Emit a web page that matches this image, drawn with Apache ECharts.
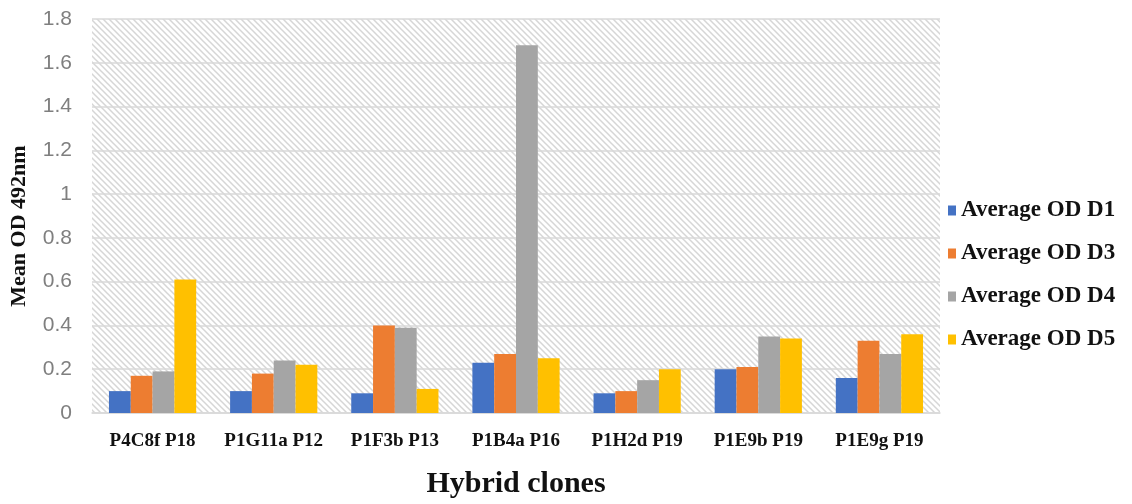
<!DOCTYPE html>
<html>
<head>
<meta charset="utf-8">
<script src="https://cdn.jsdelivr.net/npm/echarts@6/dist/echarts.min.js"></script>
<style>
  html, body { margin: 0; padding: 0; background: #ffffff; }
  #chart { width: 1132px; height: 504px; }
</style>
</head>
<body>
<div id="chart"></div>
<script>
// Hybridoma clones screened by ELISA, absorbance read at 492 nm
const clones = ['P4C8f P18', 'P1G11a P12', 'P1F3b P13', 'P1B4a P16', 'P1H2d P19', 'P1E9b P19', 'P1E9g P19'];
const seriesNames = ['Average OD D1', 'Average OD D3', 'Average OD D4', 'Average OD D5'];
const odD1 = [0.10, 0.10, 0.09, 0.23, 0.09, 0.20, 0.16];
const odD3 = [0.17, 0.18, 0.40, 0.27, 0.10, 0.21, 0.33];
const odD4 = [0.19, 0.24, 0.39, 1.68, 0.15, 0.35, 0.27];
const odD5 = [0.61, 0.22, 0.11, 0.25, 0.20, 0.34, 0.36];
const colors = ['#4472C4', '#ED7D31', '#A5A5A5', '#FFC000'];

// Light diagonal hatch for the plot area background
function hatchPattern() {
  const size = 6;
  const c = document.createElement('canvas');
  c.width = size; c.height = size;
  const ctx = c.getContext('2d');
  ctx.fillStyle = '#ffffff';
  ctx.fillRect(0, 0, size, size);
  ctx.strokeStyle = '#d6d6d6';
  ctx.lineWidth = 1.5;
  ctx.beginPath();
  ctx.moveTo(-1, -1); ctx.lineTo(size + 1, size + 1);
  ctx.moveTo(-1 - size, -1); ctx.lineTo(1, size + 1);
  ctx.moveTo(size - 1, -1); ctx.lineTo(2 * size + 1, size + 1);
  ctx.stroke();
  return c;
}

const data = [odD1, odD3, odD4, odD5];
const chart = echarts.init(document.getElementById('chart'), null, { renderer: 'canvas' });

chart.setOption({
  animation: false,
  grid: {
    show: true,
    left: 92, right: 192, top: 19, bottom: 90,
    backgroundColor: { image: hatchPattern(), repeat: 'repeat' },
    borderWidth: 0
  },
  legend: {
    orient: 'vertical',
    left: 943,
    top: 194,
    itemGap: 20,
    itemWidth: 8,
    itemHeight: 10,
    icon: 'rect',
    data: seriesNames,
    textStyle: {
      fontFamily: 'Liberation Serif',
      fontWeight: 'bold',
      fontSize: 23,
      color: '#111111',
      padding: [0, 0, 0, 0]
    }
  },
  xAxis: {
    type: 'category',
    data: clones,
    name: 'Hybrid clones',
    nameLocation: 'middle',
    nameGap: 56,
    nameTextStyle: {
      fontFamily: 'Liberation Serif',
      fontWeight: 'bold',
      fontSize: 30,
      color: '#111111'
    },
    axisLine: { lineStyle: { color: '#d9d9d9', width: 1.5 } },
    axisTick: { show: false },
    axisLabel: {
      interval: 0,
      hideOverlap: false,
      fontFamily: 'Liberation Serif',
      fontWeight: 'bold',
      fontSize: 19,
      color: '#111111',
      margin: 19
    }
  },
  yAxis: {
    type: 'value',
    min: 0,
    max: 1.8,
    interval: 0.2,
    name: 'Mean OD 492nm',
    nameLocation: 'middle',
    nameGap: 62,
    nameTextStyle: {
      fontFamily: 'Liberation Serif',
      fontWeight: 'bold',
      fontSize: 22,
      color: '#111111',
      padding: [0, 20, 0, 0]
    },
    axisLine: { show: false },
    axisTick: { show: false },
    splitLine: { lineStyle: { color: '#d9d9d9', width: 1.5 } },
    axisLabel: {
      fontFamily: 'Liberation Sans',
      fontSize: 21,
      color: '#7f7f7f',
      margin: 20,
      formatter: v => String(Math.round(v * 10) / 10)
    }
  },
  series: seriesNames.map((name, i) => ({
    name,
    type: 'bar',
    data: data[i],
    barGap: '0%',
    barCategoryGap: '28%',
    itemStyle: { color: colors[i] }
  }))
});
</script>
</body>
</html>
